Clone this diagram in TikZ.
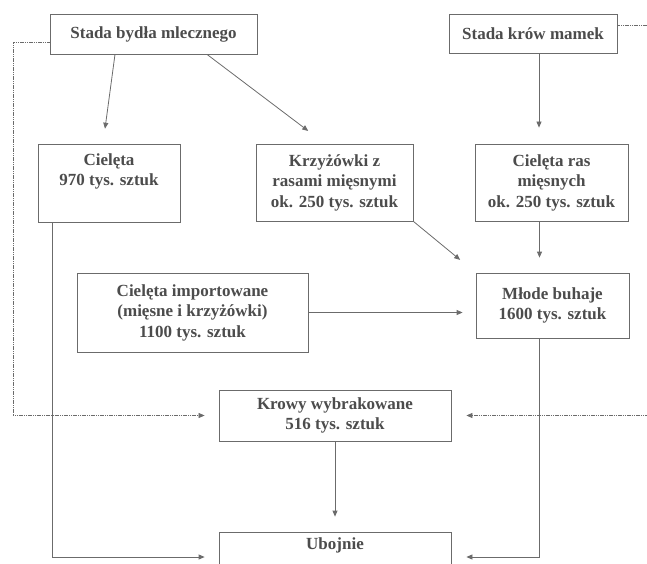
\documentclass[tikz,border=0pt]{standalone}
\usepackage{fontspec}
\setmainfont{Liberation Serif}
\usetikzlibrary{arrows.meta}
\definecolor{linegray}{gray}{0.42}
\definecolor{textgray}{gray}{0.3}
\tikzset{%
  >={Triangle[width=5pt,length=6pt]},
  % Specifications for style of nodes:
        box/.style = {rectangle, draw=linegray, fill=white, line width=0.8pt,
                      align=center, text=textgray, inner sep=2pt,
                      font=\bfseries\fontsize{17}{20.5}\selectfont},
  % Specifications for style of connectors:
       flow/.style = {->, draw=linegray, line width=0.8pt},
       feed/.style = {flow, line width=0.7pt, dash pattern=on 1.2pt off 0.6pt},
}

\begin{document}
\begin{tikzpicture}[x=1pt, y=-1pt]
    \path[use as bounding box, clip] (0,0) rectangle (647,564);

    \node (dairy)      [box, minimum width=207pt, minimum height=40pt] at (153.5,34)    {Stada bydła mlecznego};
    \node (suckler)    [box, minimum width=168pt, minimum height=39pt] at (533,33.5)    {Stada krów mamek};
    \node (calves)     [box, minimum width=142pt, minimum height=78pt] at (109,183)     {Cielęta\\970 tys. sztuk\\ \strut};
    \node (cross)      [box, minimum width=157pt, minimum height=77pt] at (334.5,182.5) {Krzyżówki z\\rasami mięsnymi\\ok. 250 tys. sztuk};
    \node (beefcalves) [box, minimum width=153pt, minimum height=77pt] at (551.5,182.5) {Cielęta ras\\mięsnych\\ok. 250 tys. sztuk};
    \node (imported)   [box, minimum width=231pt, minimum height=79pt] at (192.5,312.5) {Cielęta importowane\\(mięsne i krzyżówki)\\1100 tys. sztuk};
    \node (bulls)      [box, minimum width=153pt, minimum height=65pt] at (552.5,305.5) {Młode buhaje\\1600 tys. sztuk};
    \node (culled)     [box, minimum width=232pt, minimum height=51pt] at (335,415.5)   {Krowy wybrakowane\\516 tys. sztuk};
    \node (slaughter)  [box, minimum width=232pt, minimum height=50pt] at (335,557)     {Ubojnie\\ \strut};

    \coordinate (lrail) at (13,0);
    \coordinate (rrail) at (655,0);

    \draw[flow, shorten >=15pt] ([xshift=-38.5pt]dairy.south) -- ([xshift=-6pt]calves.north);
    \draw[flow, shorten >=21pt] ([xshift=53.5pt]dairy.south) -- ([xshift=-9.5pt]cross.north);
    \draw[flow, shorten >=16pt] ([xshift=6pt]suckler.south) -- ([xshift=6pt]suckler.south |- beefcalves.north);
    \draw[flow, shorten >=20pt] (cross.south east) -- (bulls.north west);
    \draw[flow, shorten >=15pt] ([xshift=-12pt]beefcalves.south) -- ([xshift=-12pt]beefcalves.south |- bulls.north);
    \draw[flow, shorten >=13pt] (imported.east) -- (imported.east -| bulls.west);
    \draw[flow, shorten >=15pt] (culled) -- (slaughter);
    \draw[flow, shorten >=14pt] ([xshift=-57pt]calves.south) |- (slaughter.west);
    \draw[flow, shorten >=15pt] ([xshift=-13.5pt]bulls.south) |- (slaughter.east);
    \draw[feed, shorten >=14pt] ([yshift=-8pt]dairy.west) -| (lrail |- culled.west) -- (culled.west);
    \draw[feed, shorten >=15pt] ([yshift=8.5pt]suckler.east) -| (rrail |- culled.east) -- (culled.east);

\end{tikzpicture}
\end{document}
